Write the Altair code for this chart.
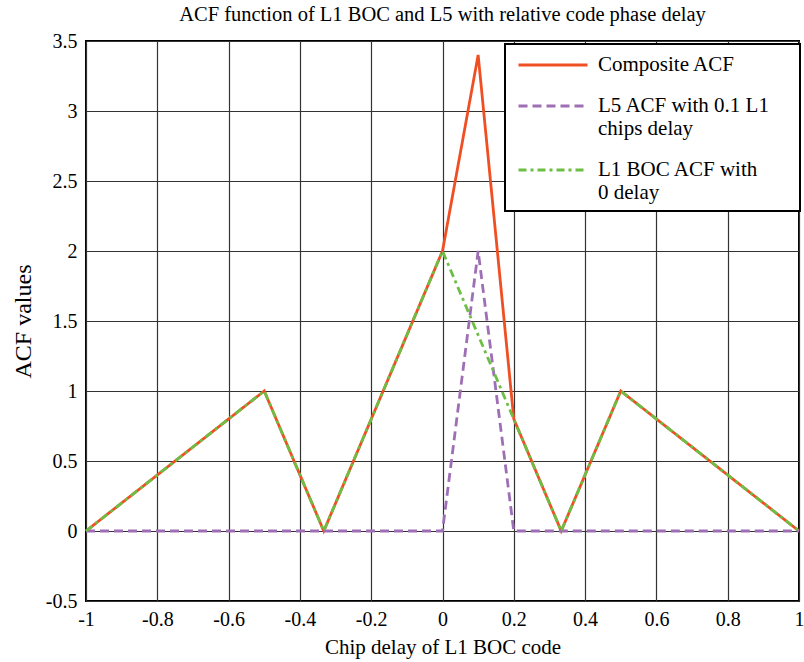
import altair as alt
import pandas as pd

# ---- data ----
series_names = ["Composite ACF", "L5 ACF with 0.1 L1\nchips delay", "L1 BOC ACF with\n0 delay"]

composite_x = [-1.0, -0.5, -0.333, 0.0, 0.1, 0.2, 0.333, 0.5, 1.0]
composite_y = [0.0, 1.0, 0.0, 2.0, 3.4, 0.8, 0.0, 1.0, 0.0]

l5_x = [-1.0, 0.0, 0.1, 0.2, 1.0]
l5_y = [0.0, 0.0, 2.0, 0.0, 0.0]

boc_x = [-1.0, -0.5, -0.333, 0.0, 0.333, 0.5, 1.0]
boc_y = [0.0, 1.0, 0.0, 2.0, 0.0, 1.0, 0.0]

x_ticks = [-1, -0.8, -0.6, -0.4, -0.2, 0, 0.2, 0.4, 0.6, 0.8, 1]
y_ticks = [-0.5, 0, 0.5, 1, 1.5, 2, 2.5, 3, 3.5]

colors = ["#F04E23", "#9E6FB5", "#6DBE45"]
dashes = [[1, 0], [9, 5], [8, 4, 3, 4]]

rows = []
for name, xs, ys in zip(series_names, [composite_x, l5_x, boc_x], [composite_y, l5_y, boc_y]):
    for i, (x, y) in enumerate(zip(xs, ys)):
        rows.append({"series": name, "x": x, "y": y, "i": i})
df = pd.DataFrame(rows)

FONT = "Liberation Serif"
PAD = "\u00a0" * 4 + "\u200b"
MINUS_FIX = "replace(datum.label, '\u2212', '-')"

color_scale = alt.Scale(domain=series_names, range=colors)
dash_scale = alt.Scale(domain=series_names, range=dashes)

legend = alt.Legend(
    title=None,
    orient="none",
    legendX=419,
    legendY=3,
    labelExpr="split(replace(datum.label, '\\n', '" + PAD + "\\n'), '\\n')",
)


def layer(name):
    return (
        alt.Chart(df)
        .transform_filter(alt.datum.series == name)
        .mark_line(strokeWidth=2.8)
        .encode(
            x=alt.X(
                "x:Q",
                scale=alt.Scale(domain=[-1, 1], nice=False, zero=False),
                axis=alt.Axis(
                    title="Chip delay of L1 BOC code",
                    values=x_ticks,
                    format=".1~f",
                    labelExpr=MINUS_FIX,
                    labelFlush=False,
                    labelOverlap=False,
                    labelPadding=8,
                    titlePadding=7,
                ),
            ),
            y=alt.Y(
                "y:Q",
                scale=alt.Scale(domain=[-0.5, 3.5], nice=False, zero=False),
                axis=alt.Axis(
                    title="ACF values",
                    values=y_ticks,
                    format=".1~f",
                    labelExpr=MINUS_FIX,
                    labelFlush=False,
                    labelOverlap=False,
                    labelPadding=9,
                    titlePadding=10,
                    titleFontSize=24,
                ),
            ),
            color=alt.Color("series:N", scale=color_scale, legend=legend),
            strokeDash=alt.StrokeDash("series:N", scale=dash_scale, legend=legend),
            order="i:Q",
        )
    )


chart = (
    alt.layer(*[layer(n) for n in series_names])
    .properties(
        width=713,
        height=560,
        autosize=alt.AutoSizeParams(type="none"),
        padding={"left": 86, "top": 41, "right": 5, "bottom": 61},
        title=alt.Title(
            "ACF function of L1 BOC and L5 with relative code phase delay",
            font=FONT,
            fontSize=20.5,
            fontWeight="normal",
            color="black",
            offset=6,
            anchor="middle",
        ),
    )
    .configure(background="white")
    .configure_view(stroke="black", strokeWidth=2)
    .configure_axis(
        labelFont=FONT,
        labelFontSize=20,
        labelColor="black",
        titleFont=FONT,
        titleFontSize=21,
        titleFontWeight="normal",
        titleColor="black",
        grid=True,
        gridColor="#333333",
        gridWidth=1.2,
        gridOpacity=1,
        ticks=False,
        domain=False,
    )
    .configure_legend(
        labelFont=FONT,
        labelFontSize=21,
        labelColor="black",
        strokeColor="black",
        strokeWidth=2,
        fillColor="white",
        padding=8,
        rowPadding=18,
        symbolType="M-3,0H3",
        symbolSize=529,
        symbolStrokeWidth=2.8,
        symbolOffset=27,
        labelOffset=32,
        labelLimit=400,
    )
)

chart.save("out.html", embed_options={"renderer": "svg", "actions": False})
